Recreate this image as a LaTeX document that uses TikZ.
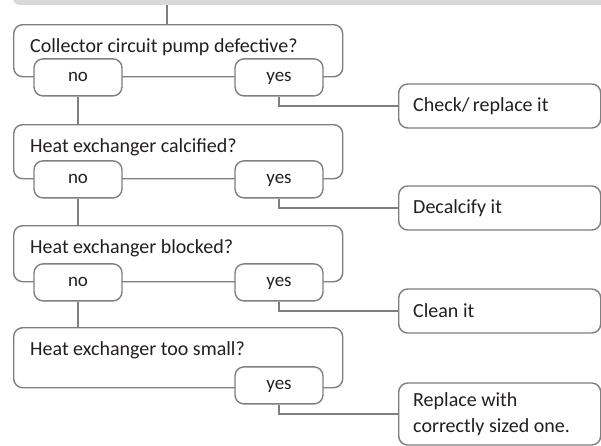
\documentclass[tikz,border=0pt]{standalone}
\usepackage{fontspec}
\setmainfont{Carlito}
\usetikzlibrary{positioning, calc}

\definecolor{linegray}{HTML}{7F7F7F}
\definecolor{bargray}{HTML}{D9D9D9}
\definecolor{textdark}{HTML}{231F20}

\tikzset{
    box/.style={draw=linegray, line width=1.4pt, rounded corners=9pt, fill=white, inner sep=0pt},
    qbox/.style={box, anchor=north west, minimum width=329pt},
    answer/.style={box, minimum width=88pt, minimum height=37pt, text height=1.8ex, text depth=0pt, font=\fontsize{19}{22}\selectfont, text=textdark},
    action/.style={box, anchor=west, minimum width=202pt},
    qtext/.style={anchor=base west, inner sep=0pt, font=\fontsize{20}{24}\selectfont, text=textdark},
    atext/.style={anchor=west, inner sep=0pt, align=left, font=\fontsize{20}{26}\selectfont, text=textdark},
    conn/.style={draw=linegray, line width=1.4pt}
}

\begin{document}
\begin{tikzpicture}[x=1pt, y=-1pt]
    \useasboundingbox (0,0) rectangle (601,445);
    \clip (0,0) rectangle (601,445);
    \fill[white] (0,0) rectangle (601,445);

    % header bar
    \node[fill=bargray, rounded corners=6pt, anchor=south west, minimum width=620pt, minimum height=20pt] (bar) at (13,5) {};
    \coordinate (in1) at (167,24);

    % questions
    \node[qbox, minimum height=52pt] (q1) at (13,24) {};
    \node[qbox, minimum height=54pt] (q2) at (13,124) {};
    \node[qbox, minimum height=56pt] (q3) at (13,225) {};
    \node[qbox, minimum height=60pt] (q4) at (13,327) {};

    \node[qtext] (q1t) at ($(q1.north west)+(17,28)$) {Collector circuit pump defective?};
    \node[qtext] (q2t) at ($(q2.north west)+(17,28)$) {Heat exchanger calcified?};
    \node[qtext] (q3t) at ($(q3.north west)+(17,28)$) {Heat exchanger blocked?};
    \node[qtext] (q4t) at ($(q4.north west)+(17,28)$) {Heat exchanger too small?};

    % answers
    \node[answer] (no1) at ($(q1.south west)+(65,0)$) {no};
    \node[answer] (yes1) at ($(q1.south west)+(266,0)$) {yes};
    \node[answer] (no2) at ($(q2.south west)+(65,0)$) {no};
    \node[answer] (yes2) at ($(q2.south west)+(266,0)$) {yes};
    \node[answer] (no3) at ($(q3.south west)+(65,0)$) {no};
    \node[answer] (yes3) at ($(q3.south west)+(266,0)$) {yes};
    \node[answer] (yes4) at ($(q4.south west)+(266,-3)$) {yes};

    % actions
    \node[action, minimum height=44pt] (a1) at (398,106) {};
    \node[action, minimum height=44pt] (a2) at (398,208) {};
    \node[action, minimum height=44pt] (a3) at (398,311) {};
    \node[action, minimum height=62pt] (a4) at (398,414) {};

    \node[atext] (a1t) at ($(a1.west)+(15,0)$) {Check/\,replace it};
    \node[atext] (a2t) at ($(a2.west)+(15,0)$) {Decalcify it};
    \node[atext] (a3t) at ($(a3.west)+(15,0)$) {Clean it};
    \node[atext] (a4t) at ($(a4.west)+(15,0)$) {Replace with\\correctly sized one.};

    % connectors
    \draw[conn] (bar.south -| in1) -- (in1);
    \draw[conn] (no1.south) -- (no1.south |- q2.north);
    \draw[conn] (no2.south) -- (no2.south |- q3.north);
    \draw[conn] (no3.south) -- (no3.south |- q4.north);
    \draw[conn] (yes1.south) |- (a1.west);
    \draw[conn] (yes2.south) |- (a2.west);
    \draw[conn] (yes3.south) |- (a3.west);
    \draw[conn] (yes4.south) |- (a4.west);
\end{tikzpicture}
\end{document}
